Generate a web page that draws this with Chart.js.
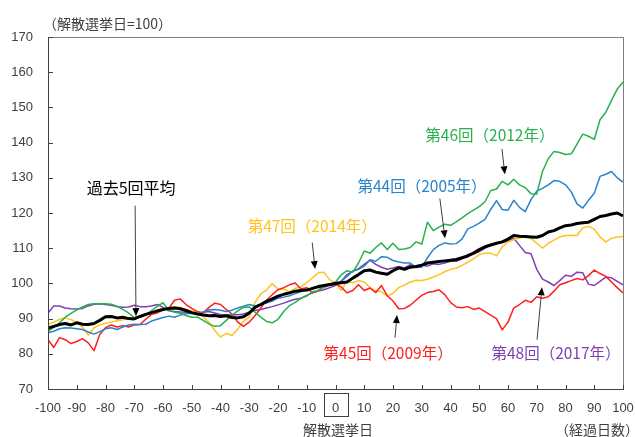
<!DOCTYPE html>
<html><head><meta charset="utf-8">
<script src="https://cdn.jsdelivr.net/npm/chart.js@4.4.1/dist/chart.umd.min.js"></script>
<style>html,body{margin:0;padding:0;background:#fff}#wrap{width:635px;height:437px}</style>
</head><body><div id="wrap"><canvas id="c" width="635" height="437"></canvas></div>
<script>
const days = Array.from({length:101},(_,i)=>-100+2*i);
const xTicks = [-100,-90,-80,-70,-60,-50,-40,-30,-20,-10,0,10,20,30,40,50,60,70,80,90,100];
const yTicks = [70,80,90,100,110,120,130,140,150,160,170];

const avg5 = [87.3,87.8,88.3,88.6,88.2,88.8,88.4,88.3,88.6,89.5,90.5,90.6,90.2,90.4,90.0,89.9,90.6,91.2,91.7,92.2,92.6,92.9,93.0,92.8,92.3,91.7,91.3,91.0,90.8,90.9,90.6,90.8,90.3,90.2,90.5,91.6,93.2,94.0,94.9,95.6,96.4,96.9,97.3,97.8,98.0,98.1,98.6,99.1,99.4,99.7,100,100.2,100.4,101.5,102.5,103.6,103.8,103.2,102.9,102.6,103.6,104.4,104.0,104.6,104.8,105.2,105.8,106.0,106.2,106.4,106.6,106.8,107.3,107.8,108.6,109.6,110.4,110.9,111.4,111.8,112.6,113.6,113.4,113.3,113.2,113.1,113.6,114.6,115.0,115.8,116.4,116.6,117.0,117.2,117.4,118.2,119.0,119.3,119.7,120.0,119.2];
const e46 = [86.4,87.5,88.8,90.4,91.5,92.5,93.3,94.0,94.2,94.2,94.2,94.1,93.5,92.6,91.6,90.3,90.4,91.0,92.3,93.5,94.5,92.4,91.8,91.5,90.9,90.4,90.4,89.5,88.5,87.8,88.0,89.5,91.0,92.2,93.2,93.3,91.8,90.4,89.2,88.8,89.8,92.0,93.7,94.6,95.8,96.4,97.6,98.0,98.8,99.6,100.4,102.4,103.6,103.2,105.8,109.2,108.6,110.2,111.5,109.6,111.4,109.6,109.8,110.2,111.8,111.2,117.4,115.0,116.0,116.8,116.5,117.5,118.6,119.8,120.8,121.8,123.2,126.4,126.8,129.0,128.0,129.6,128.0,127.2,125.5,125.4,131.8,135.4,137.5,137.2,136.6,136.8,139.6,142.4,141.8,140.9,146.5,148.6,152.0,155.2,157.2];
const e44 = [86.0,86.4,87.1,87.4,87.3,87.1,86.9,86.2,85.6,86.3,87.1,87.4,86.9,87.6,88.2,88.4,88.3,88.4,89.3,89.8,90.3,90.7,90.4,91.0,91.4,91.5,91.2,91.9,92.5,92.6,92.4,92.0,92.4,93.0,93.5,94.0,93.6,94.0,94.4,95.0,95.8,96.1,96.5,97.1,97.7,98.2,98.5,98.8,99.3,99.8,100.1,100.6,102.0,103.5,104.0,104.9,106.7,106.3,107.6,107.4,106.5,106.1,105.8,105.8,104.5,104.6,107.3,109.6,110.8,111.5,111.2,111.3,112.6,115.5,116.2,117.1,118.2,121.0,123.5,121.0,120.8,123.6,121.6,120.4,123.8,126.2,127.0,128.0,129.2,129.0,128.0,126.0,122.6,121.4,123.6,125.6,130.4,131.0,131.8,130.0,128.8];
const e45 = [84.0,81.8,84.6,84.0,82.9,83.5,84.3,83.1,80.9,85.5,87.4,88.2,87.6,88.0,87.6,88.2,88.3,89.8,91.2,91.6,92.5,92.9,95.2,95.6,94.0,92.9,92.0,91.6,93.2,94.4,94.0,92.6,91.3,89.0,87.8,89.0,90.8,93.0,95.2,96.8,98.2,98.8,99.6,100.1,98.4,98.8,97.3,97.9,99.6,99.4,99.8,99.0,97.3,98.0,99.6,98.0,98.7,97.4,99.4,96.5,95.0,92.8,92.9,93.8,95.2,96.6,97.4,97.7,98.2,96.8,94.6,93.3,93.1,93.4,92.6,93.0,92.0,91.0,90.0,86.8,89.0,93.0,94.0,95.2,94.6,96.2,95.8,96.2,97.8,99.6,100.2,100.8,101.4,101.0,102.2,103.8,102.8,102.0,100.4,98.8,97.3];
const e47 = [88.3,89.0,89.8,90.2,89.7,88.9,87.6,85.3,87.4,88.2,88.7,89.0,89.4,89.7,90.0,90.2,90.6,91.2,91.8,92.3,92.8,93.0,93.4,93.2,92.6,92.2,91.8,90.6,88.9,86.6,84.8,85.8,85.2,87.0,89.3,90.5,94.6,97.0,98.1,100.0,98.3,98.4,97.6,98.6,99.0,100.2,101.6,103.0,103.2,101.0,100.2,98.0,100.6,100.2,100.8,100.4,98.8,97.9,97.6,96.4,97.2,98.8,99.5,100.4,100.9,100.8,101.2,101.8,102.5,103.3,104.0,104.3,105.1,106.0,107.0,108.2,108.6,108.6,107.8,110.4,111.8,112.4,112.9,113.3,112.8,111.4,110.0,111.4,112.3,113.2,113.6,113.7,113.6,115.8,116.2,115.4,113.2,111.8,112.8,113.2,113.3];
const e48 = [91.6,93.6,93.6,93.0,92.8,92.7,92.9,93.6,94.1,94.2,94.0,93.8,93.4,93.2,93.3,93.8,93.4,93.4,93.6,94.0,93.2,92.2,92.0,91.9,91.8,91.6,91.4,91.8,92.0,91.6,91.2,91.0,91.1,91.1,91.3,91.8,92.3,92.6,93.0,93.4,93.9,94.4,95.0,95.5,95.8,96.6,97.3,97.8,98.2,98.8,99.4,100.6,102.5,103.4,104.2,105.4,106.6,105.4,104.6,104.0,104.4,104.8,104.4,105.3,104.8,105.2,104.9,105.6,105.4,105.8,106.3,106.3,107.0,108.2,108.4,109.0,110.0,110.8,111.4,111.6,112.2,112.8,110.8,108.8,108.4,104.0,101.2,100.4,99.4,100.8,102.3,102.0,103.2,103.0,99.8,99.4,100.6,101.8,101.6,100.6,99.6];

const seriesNames = ['過去5回平均','第46回（2012年）','第44回（2005年）','第45回（2009年）','第47回（2014年）','第48回（2017年）'];
const seriesValues = [avg5, e46, e44, e45, e47, e48];
const seriesColors = ['#000000','#27B14F','#2A83CB','#FF1E1E','#FFC31F','#7E3FB3'];
const seriesWidths = [3,1.5,1.5,1.5,1.5,1.5];

// annotations in data units: label centre, arrow start, arrow tip
const notes = [
  {t:'過去5回平均', c:'#000000', s:16, at:[-71.1,127.2], from:[-69.7,122.1], to:[-69.4,90.7]},
  {t:'第47回（2014年）', c:'#FFC31F', s:15.5, at:[-8.1,116.4], from:[-8.1,111.6], to:[-7.1,104.1]},
  {t:'第46回（2012年）', c:'#27B14F', s:15.5, at:[53.7,142.2], from:[57.9,138.2], to:[58.9,131.0]},
  {t:'第44回（2005年）', c:'#2A83CB', s:15.5, at:[30.1,127.5], from:[36.3,124.1], to:[38.1,112.8]},
  {t:'第45回（2009年）', c:'#FF1E1E', s:15.5, at:[18.3,80.3], from:[20.7,84.6], to:[21.4,91.0]},
  {t:'第48回（2017年）', c:'#7E3FB3', s:15.5, at:[76.7,80.3], from:[70.1,84.0], to:[71.8,98.9]}
];

const JP = '"Noto Sans CJK JP", "Liberation Sans", sans-serif';
const NUM = '"Liberation Sans", Arial, sans-serif';

const decor = {
  id:'decor',
  afterDraw(chart){
    const {ctx, chartArea:a} = chart;
    const x = chart.scales.x, y = chart.scales.y;
    const L = Math.round(a.left), R = Math.round(a.right), T = Math.round(a.top), B = Math.round(a.bottom);
    ctx.save();
    // frame
    ctx.fillStyle = '#808080';
    ctx.fillRect(L, T, R-L+1, 1);
    ctx.fillRect(R, T, 1, B-T+1);
    ctx.fillStyle = '#404040';
    ctx.fillRect(L, T, 1, B-T+1);
    ctx.fillRect(L, B, R-L+1, 1);
    // inside ticks
    xTicks.forEach(v=>{const px=Math.round(x.getPixelForValue(v)); ctx.fillRect(px, B-4, 1, 4);});
    yTicks.forEach(v=>{const py=Math.round(y.getPixelForValue(v)); ctx.fillRect(L, py, 5, 1);});
    // box around 0
    const zx = Math.round(x.getPixelForValue(0));
    ctx.strokeStyle = '#404040'; ctx.lineWidth = 1;
    ctx.strokeRect(zx-12+0.5, 393.5, 24, 23);
    // texts
    ctx.fillStyle = '#404040';
    ctx.textBaseline = 'middle';
    ctx.textAlign = 'left';
    ctx.font = '14px ' + JP;
    ctx.fillText('（解散選挙日=100）', 43, 24);
    ctx.textAlign = 'center';
    ctx.fillText('解散選挙日', 338, 430);
    ctx.fillText('（経過日数）', 597, 430);
    // annotations
    notes.forEach(n=>{
      ctx.font = n.s + 'px ' + JP;
      ctx.fillStyle = n.c;
      ctx.textAlign = 'center';
      ctx.fillText(n.t, x.getPixelForValue(n.at[0]), y.getPixelForValue(n.at[1]));
      const x1=x.getPixelForValue(n.from[0]), y1=y.getPixelForValue(n.from[1]);
      const x2=x.getPixelForValue(n.to[0]), y2=y.getPixelForValue(n.to[1]);
      const ang=Math.atan2(y2-y1,x2-x1), AL=8, W=3.5;
      const bx=x2-AL*Math.cos(ang), by=y2-AL*Math.sin(ang);
      ctx.strokeStyle='#404040'; ctx.lineWidth=1;
      ctx.beginPath(); ctx.moveTo(x1,y1); ctx.lineTo(bx,by); ctx.stroke();
      ctx.fillStyle='#000';
      ctx.beginPath();
      ctx.moveTo(x2,y2);
      ctx.lineTo(bx+W*Math.sin(ang), by-W*Math.cos(ang));
      ctx.lineTo(bx-W*Math.sin(ang), by+W*Math.cos(ang));
      ctx.closePath(); ctx.fill();
    });
    ctx.restore();
  }
};

new Chart(document.getElementById('c'), {
  type:'line',
  data:{
    datasets: seriesValues.map((vals,i)=>({
      label: seriesNames[i],
      data: days.map((d,j)=>({x:d, y:vals[j]})),
      borderColor: seriesColors[i],
      borderWidth: seriesWidths[i],
      pointRadius:0, tension:0, fill:false,
      borderJoinStyle:'round'
    }))
  },
  options:{
    responsive:false, animation:false,
    layout:{padding:{top:37,right:12,left:0,bottom:0}},
    plugins:{legend:{display:false}, tooltip:{enabled:false}},
    scales:{
      x:{type:'linear', min:-100, max:100,
         afterBuildTicks:(s)=>{s.ticks = xTicks.map(v=>({value:v}));},
         afterFit:(s)=>{s.height=48; s.paddingLeft=0; s.paddingRight=0;},
         grid:{display:false, drawTicks:false}, border:{display:false},
         ticks:{padding:12, color:'#404040', font:{family:NUM, size:13}, maxRotation:0, autoSkip:false}},
      y:{min:70, max:170,
         afterBuildTicks:(s)=>{s.ticks = yTicks.map(v=>({value:v}));},
         afterFit:(s)=>{s.width=48; s.paddingTop=0; s.paddingBottom=0;},
         grid:{display:false, drawTicks:false}, border:{display:false},
         ticks:{padding:15, color:'#404040', font:{family:NUM, size:13}}}
    }
  },
  plugins:[decor]
});
</script></body></html>
